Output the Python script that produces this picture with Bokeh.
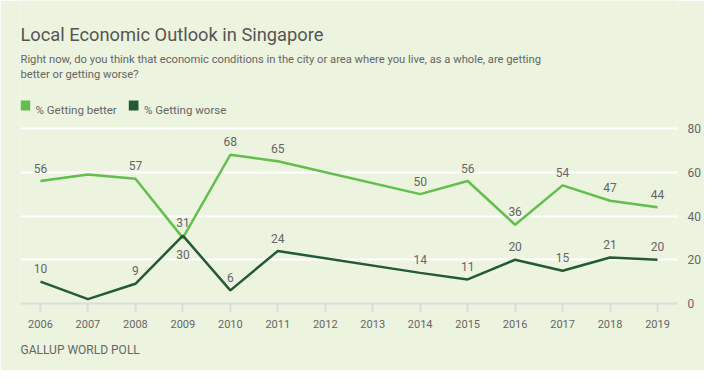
from bokeh.plotting import figure
from bokeh.models import (ColumnDataSource, LinearAxis, FixedTicker, Range1d, Label,
                          BoxAnnotation, Title)
from bokeh.core.properties import value
from bokeh.embed import file_html
from bokeh.resources import INLINE

years = [2006, 2007, 2008, 2009, 2010, 2011, 2014, 2015, 2016, 2017, 2018, 2019]
better = [56, 59, 57, 30, 68, 65, 50, 56, 36, 54, 47, 44]
worse = [10, 2, 9, 31, 6, 24, 14, 11, 20, 15, 21, 20]
unlabeled_years = [2007]
tick_years = list(range(2006, 2020))
y_ticks = [0, 20, 40, 60, 80]
series_names = ["% Getting better", "% Getting worse"]

TITLE = "Local Economic Outlook in Singapore"
SUBTITLE_1 = "Right now, do you think that economic conditions in the city or area where you live, as a whole, are getting"
SUBTITLE_2 = "better or getting worse?"
SOURCE = "GALLUP WORLD POLL"

BG = "#ecf3de"
C_BETTER = "#62bf4d"
C_WORSE = "#245a36"
TXT = "#666666"
FONT = "Roboto"

# layout: the value axis (0..80) occupies page y 128..303; the frame is extended
# upward to the top of the canvas so that heading texts sit inside it
PLOT_TOP, PLOT_BOTTOM = 128, 303
y_top = y_ticks[-1] * PLOT_BOTTOM / (PLOT_BOTTOM - PLOT_TOP)

p = figure(width=704, height=370, output_backend="svg", toolbar_location=None,
           x_range=Range1d(2005.579, 2019.421), y_range=Range1d(0, y_top),
           min_border_left=20, min_border_right=27, min_border_top=0, min_border_bottom=67,
           background_fill_color=BG, border_fill_color=BG, outline_line_color=None)
p.yaxis.visible = False
p.xaxis.visible = False

p.xgrid.visible = False
p.ygrid.ticker = FixedTicker(ticks=[t for t in y_ticks if t > 0])
p.ygrid.grid_line_color = "white"
p.ygrid.grid_line_width = 2

xa = LinearAxis(ticker=FixedTicker(ticks=tick_years))
xa.axis_line_color = "#dcdcdc"
xa.axis_line_width = 2
xa.major_tick_line_color = "#dcdcdc"
xa.major_tick_line_width = 2
xa.major_tick_out = 9
xa.major_tick_in = 0
xa.minor_tick_line_color = None
xa.major_label_text_font = FONT
xa.major_label_text_font_size = "11px"
xa.major_label_text_color = TXT
xa.major_label_standoff = 7
p.add_layout(xa, "below")

# source line, placed below the axis
p.add_layout(Title(text=SOURCE, text_font=FONT, text_font_size="12px", text_color=TXT,
                   text_font_style="normal", align="left", offset=0, standoff=20), "below")

ya = LinearAxis(ticker=FixedTicker(ticks=y_ticks))
ya.axis_line_color = None
ya.major_tick_line_color = None
ya.minor_tick_line_color = None
ya.major_tick_out = 0
ya.major_tick_in = 0
ya.major_label_text_font = FONT
ya.major_label_text_font_size = "12px"
ya.major_label_text_color = TXT
ya.major_label_standoff = 10
p.add_layout(ya, "right")

p.line(years, better, line_color=C_BETTER, line_width=2.5)
p.line(years, worse, line_color=C_WORSE, line_width=2.5)

lx, ly, lt, loff = [], [], [], []
for yr, b, w in zip(years, better, worse):
    if yr in unlabeled_years:
        continue
    lx += [yr, yr]
    ly += [b, w]
    lt += [str(b), str(w)]
    loff += [17 if b < w else -13, -13]
src = ColumnDataSource(dict(x=lx, y=ly, t=lt, off=loff))
p.text(x="x", y="y", text="t", y_offset="off", source=src, text_align="center",
       text_baseline="middle", text_font=value(FONT), text_font_size="12px", text_color=TXT)

# heading texts (screen units, relative to the frame's bottom-left corner)
FL = 20
def at(px, py):
    return px - FL, PLOT_BOTTOM - py

def lab(text, px, py, size, color=TXT):
    sx, sy = at(px, py)
    p.add_layout(Label(x=sx, y=sy, x_units="screen", y_units="screen", text=text,
                       text_font=FONT, text_font_size=size, text_color=color,
                       text_baseline="alphabetic"))

lab(TITLE, 20, 34, "18.3px", color="#555555")
lab(SUBTITLE_1, 20, 58.5, "11.2px")
lab(SUBTITLE_2, 20, 73.5, "11.2px")
lab(series_names[0], 35, 109.5, "11.5px")
lab(series_names[1], 143.5, 109.5, "11.5px")

for x0, c in ((20, C_BETTER), (128.3, C_WORSE)):
    l, t = at(x0, 100)
    r, b = at(x0 + 9.7, 110)
    p.add_layout(BoxAnnotation(left=l, right=r, top=t, bottom=b, left_units="screen",
                               right_units="screen", top_units="screen", bottom_units="screen",
                               fill_color=c, fill_alpha=1, line_color=None))

html = file_html(p, INLINE)
html = html.replace("<body>", '<body style="background:%s">' % BG, 1)
open("out.html", "w").write(html)
